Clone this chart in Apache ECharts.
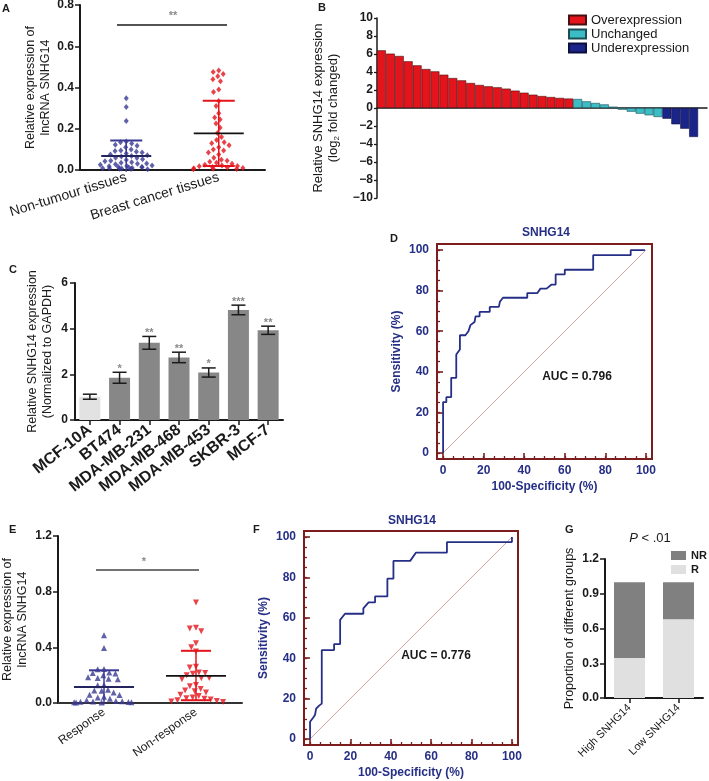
<!DOCTYPE html>
<html><head><meta charset="utf-8">
<script src="https://cdn.jsdelivr.net/npm/echarts@6/dist/echarts.min.js"></script>
<style>html,body{margin:0;padding:0;background:#fff}#c{width:709px;height:781px}</style>
</head><body><div id="c"></div>
<script>
// ---------- DATA ----------
const aCategories = ['Non-tumour tissues', 'Breast cancer tissues'];
const aNonTumour = [0.348,0.305,0.238,0.138,0.135,0.128,0.122,0.118,0.11,0.10,0.095,0.092,0.088,0.085,0.08,0.075,0.072,0.068,0.065,0.06,0.058,0.052,0.048,0.045,0.042,0.038,0.035,0.032,0.03,0.028,0.025,0.022,0.02,0.018,0.016,0.015,0.013,0.012,0.01,0.009,0.008,0.007,0.006,0.005,0.004];
const aCancer = [0.483,0.475,0.465,0.455,0.44,0.43,0.39,0.378,0.335,0.31,0.275,0.255,0.245,0.225,0.205,0.18,0.16,0.145,0.135,0.13,0.12,0.11,0.10,0.095,0.085,0.075,0.06,0.05,0.045,0.04,0.035,0.03,0.025,0.022,0.02,0.018,0.015,0.012,0.01,0.008,0.006,0.005,0.004];
const aMean = [0.068, 0.178];
const aSdLow = [-0.008, 0.02];
const aSdHigh = [0.143, 0.336];

const bOver = [6.41,6.04,5.78,5.19,4.74,4.33,4.07,3.70,3.33,3.07,2.78,2.56,2.41,2.30,2.15,1.93,1.70,1.48,1.33,1.22,1.12,1.05];
const bUnchanged = [1.0,0.74,0.56,0.4,0.15,-0.19,-0.41,-0.63,-0.81,-1.0];
const bUnder = [-1.19,-1.81,-2.3,-3.22];
const bNames = ['Overexpression','Unchanged','Underexpression'];

const cCategories = ['MCF-10A','BT474','MDA-MB-231','MDA-MB-468','MDA-MB-453','SKBR-3','MCF-7'];
const cMeans = [1.02,1.85,3.38,2.74,2.08,4.82,3.93];
const cErrors = [0.11,0.24,0.28,0.23,0.2,0.21,0.18];
const cSig = ['','*','**','**','*','***','**'];

const dRoc = [[0,0],[0,25],[1.6,25],[1.6,27.5],[4,27.5],[4,37],[6.5,37],[6.5,48.5],[8.3,51],[8.3,58],[11,58],[12.5,60],[13.5,63],[15.5,64.5],[16,67.3],[18,67.3],[18,69.5],[23,69.5],[23,72],[27.5,72],[28,74.5],[29.5,76.5],[41.5,76.5],[41.5,78.8],[46.5,78.8],[48,81],[51,81],[53.5,83],[55.5,83],[55.5,88],[60,88],[60,90.3],[74,90.3],[74,97.5],[92.5,97.5],[92.5,100],[99.5,100]];

const eCategories = ['Response', 'Non-response'];
const eResponse = [0.486,0.395,0.245,0.243,0.22,0.215,0.212,0.2,0.185,0.18,0.175,0.17,0.13,0.128,0.095,0.09,0.088,0.075,0.06,0.058,0.045,0.04,0.03,0.02,0.015,0.012,0.01,0.009,0.008,0.006,0.005,0.004,0.003];
const eNonResponse = [0.723,0.54,0.535,0.515,0.43,0.40,0.37,0.26,0.255,0.22,0.215,0.21,0.2,0.18,0.178,0.17,0.13,0.12,0.10,0.09,0.085,0.075,0.06,0.05,0.04,0.035,0.03,0.025,0.02,0.015,0.01,0.008];
const eMean = [0.115, 0.195];
const eSdLow = [-0.01, 0.02];
const eSdHigh = [0.235, 0.375];

const fRoc = [[0,0],[0,8.5],[1.5,10.5],[2.5,12],[3,15],[4.5,16.5],[5.8,17.5],[5.8,44],[11.9,44],[11.9,47],[14.9,47],[14.9,59],[17.3,62],[26.4,62],[26.4,64.7],[29,67.6],[32.2,67.6],[32.2,70.6],[38.3,70.6],[38.3,79.4],[41.3,79.4],[41.3,88.2],[49.6,88.2],[52.5,92.3],[67.8,92.3],[67.8,97.5],[100,97.5],[100,100]];

const gCategories = ['High SNHG14', 'Low SNHG14'];
const gR = [0.345, 0.68];
const gNR = [0.655, 0.32];

// ---------- STYLE ----------
const FF = '"Liberation Sans", Arial, Helvetica, sans-serif';
const NAVY = '#262F86';
const MAROON = '#7B1D1D';
const BLUE = '#3A3A94';
const RED = '#E3141B';
const BK = '#1a1a1a';

const chart = echarts.init(document.getElementById('c'), null, {renderer: 'canvas'});

function baseGrid(l, t, w, h, extra) {
  return Object.assign({left: l, top: t, width: w, height: h, containLabel: false, outerBoundsMode: 'none'}, extra || {});
}
const tickLbl = {color: BK, fontSize: 12, fontWeight: 'bold', fontFamily: FF};
const nameStyle = {color: BK, fontSize: 12.5, fontFamily: FF, lineHeight: 15};

function meanSdRender(meanHalf, capHalf, colors, meanColors) {
  return function (params, api) {
    const i = api.value(0), m = api.value(1), lo = api.value(2), hi = api.value(3);
    const pm = api.coord([i, m]), ph = api.coord([i, hi]), pl = api.coord([i, lo]);
    const c = colors[params.dataIndex], mc = meanColors[params.dataIndex];
    const ch = [
      {type: 'line', shape: {x1: ph[0], y1: ph[1], x2: pl[0], y2: pl[1]}, style: {stroke: c, lineWidth: 1.5}},
      {type: 'line', shape: {x1: ph[0] - capHalf, y1: ph[1], x2: ph[0] + capHalf, y2: ph[1]}, style: {stroke: c, lineWidth: 2}},
      {type: 'line', shape: {x1: pm[0] - meanHalf, y1: pm[1], x2: pm[0] + meanHalf, y2: pm[1]}, style: {stroke: mc, lineWidth: 1.8}}
    ];
    if (lo > 0) ch.push({type: 'line', shape: {x1: pl[0] - capHalf, y1: pl[1], x2: pl[0] + capHalf, y2: pl[1]}, style: {stroke: c, lineWidth: 2}});
    return {type: 'group', children: ch};
  };
}

function errRender(params, api) {
  const i = api.value(0), m = api.value(1), e = api.value(2);
  const pt = api.coord([i, m + e]), pb = api.coord([i, m - e]);
  const hw = 7;
  return {type: 'group', children: [
    {type: 'line', shape: {x1: pt[0], y1: pt[1], x2: pb[0], y2: pb[1]}, style: {stroke: BK, lineWidth: 1.5}},
    {type: 'line', shape: {x1: pt[0] - hw, y1: pt[1], x2: pt[0] + hw, y2: pt[1]}, style: {stroke: BK, lineWidth: 1.5}},
    {type: 'line', shape: {x1: pb[0] - hw, y1: pb[1], x2: pb[0] + hw, y2: pb[1]}, style: {stroke: BK, lineWidth: 1.5}},
    {type: 'text', style: {text: cSig[params.dataIndex], x: pt[0], y: pt[1] + 2, align: 'center', verticalAlign: 'bottom', fill: '#8a8a8a', font: 'bold 11px ' + FF}}
  ]};
}

function rocAxes(gi, dir) {
  const minor = [], major = [0, 20, 40, 60, 80, 100];
  for (let v = 0; v <= 100; v += 5) minor.push(v);
  const common = {type: 'value', gridIndex: gi, min: -3, max: 103, splitLine: {show: false},
                  position: dir === 'x' ? 'bottom' : 'left', offset: 0};
  return [
    Object.assign({}, common, {
      axisLine: {show: true, onZero: false, lineStyle: {color: MAROON, width: 2}},
      axisTick: {show: true, inside: true, length: 3, customValues: minor, lineStyle: {color: MAROON, width: 1.3}},
      axisLabel: {show: false}
    }),
    Object.assign({}, common, {
      axisLine: {show: false, onZero: false},
      axisTick: {show: true, inside: true, length: 6, customValues: major, lineStyle: {color: MAROON, width: 1.6}},
      axisLabel: {show: true, customValues: major, color: NAVY, fontWeight: 'bold', fontSize: 12, fontFamily: FF, margin: dir === 'x' ? 6 : 8},
      name: dir === 'x' ? '100-Specificity (%)' : 'Sensitivity (%)',
      nameLocation: 'middle',
      nameGap: dir === 'x' ? 22 : 34,
      nameTextStyle: {color: NAVY, fontWeight: 'bold', fontSize: 12, fontFamily: FF}
    })
  ];
}
const dX = rocAxes(3, 'x'), dY = rocAxes(3, 'y');
const fX = rocAxes(5, 'x'), fY = rocAxes(5, 'y');

const bN = bOver.length + bUnchanged.length + bUnder.length;
const bCats = [];
for (let i = 0; i <= bN; i++) bCats.push(String(i));
function padSeries(arr, start) {
  const out = [];
  for (let i = 0; i <= bN; i++) out.push(i >= start && i < start + arr.length ? arr[i - start] : '-');
  return out;
}

const option = {
  animation: false,
  backgroundColor: '#fff',
  textStyle: {fontFamily: FF},
  grid: [
    baseGrid(80, 5, 185, 165),        // A
    baseGrid(377, 18, 330, 180),      // B
    baseGrid(75, 283, 208, 137),      // C
    baseGrid(437, 244, 215, 215, {show: true, borderColor: MAROON, borderWidth: 2, backgroundColor: 'transparent'}), // D
    baseGrid(58, 536, 184, 167),      // E
    baseGrid(304, 531, 214, 214, {show: true, borderColor: MAROON, borderWidth: 2, backgroundColor: 'transparent'}), // F
    baseGrid(605, 559, 98, 139)       // G
  ],
  legend: [
    {left: 563, top: 8, orient: 'vertical', itemWidth: 17, itemHeight: 9, itemGap: 0, icon: 'rect', selectedMode: false,
     data: bNames, textStyle: {fontSize: 13, color: BK, fontFamily: FF, lineHeight: 14}},
    {left: 666, top: 545, orient: 'vertical', itemWidth: 15, itemHeight: 9, itemGap: 3, itemTextGap: 4, icon: 'rect', selectedMode: false,
     data: ['NR', 'R'], textStyle: {fontSize: 11, fontWeight: 'bold', color: BK, fontFamily: FF, lineHeight: 11}}
  ],
  xAxis: [
    {type: 'category', gridIndex: 0, data: aCategories, jitter: 52, jitterOverlap: false, jitterMargin: 0.3,
     axisLine: {lineStyle: {color: BK, width: 2}}, axisTick: {show: false},
     axisLabel: {rotate: 17, color: BK, fontSize: 14, fontFamily: FF, margin: 7, interval: 0}},
    {type: 'category', gridIndex: 1, data: bCats, axisLine: {onZero: true, lineStyle: {color: BK, width: 1.5}},
     axisTick: {show: false}, axisLabel: {show: false}},
    {type: 'category', gridIndex: 2, data: cCategories,
     axisLine: {lineStyle: {color: BK, width: 2}}, axisTick: {show: true, alignWithLabel: true, length: 5, lineStyle: {color: BK, width: 1.5}},
     axisLabel: {rotate: 38, color: BK, fontSize: 16, fontWeight: 'bold', fontFamily: FF, margin: 8, interval: 0}},
    dX[0], dX[1],
    {type: 'category', gridIndex: 4, data: eCategories, jitter: 60, jitterOverlap: false, jitterMargin: 0.3,
     axisLine: {lineStyle: {color: '#333', width: 2}}, axisTick: {show: false},
     axisLabel: {rotate: 35, color: BK, fontSize: 12, fontFamily: FF, margin: 8, interval: 0}},
    fX[0], fX[1],
    {type: 'category', gridIndex: 6, data: gCategories,
     axisLine: {lineStyle: {color: BK, width: 2}}, axisTick: {show: true, alignWithLabel: true, length: 5, lineStyle: {color: BK, width: 1.5}},
     axisLabel: {rotate: 45, color: BK, fontSize: 11, fontFamily: FF, margin: 8, interval: 0}}
  ],
  yAxis: [
    {type: 'value', gridIndex: 0, min: 0, max: 0.8, interval: 0.2, splitLine: {show: false},
     axisLine: {show: true, lineStyle: {color: BK, width: 2}}, axisTick: {show: true, length: 5, lineStyle: {color: BK, width: 1.5}},
     axisLabel: Object.assign({formatter: v => v.toFixed(1), margin: 6}, tickLbl),
     name: 'Relative expression of\nlncRNA SNHG14', nameLocation: 'middle', nameGap: 25, nameTextStyle: nameStyle},
    {type: 'value', gridIndex: 1, min: -10, max: 10, interval: 2, splitLine: {show: false},
     axisLine: {show: true, lineStyle: {color: BK, width: 1.5}}, axisTick: {show: true, length: 3, lineStyle: {color: BK, width: 1.3}},
     axisLabel: Object.assign({formatter: v => String(v).replace('-', '\u2212'), margin: 4}, tickLbl),
     name: '{n|Relative SNHG14 expression}\n{n|(log}{s|2}{n| fold changed)}', nameLocation: 'middle', nameGap: 36,
     nameTextStyle: {rich: {n: {fontSize: 13, fontFamily: FF, color: BK, lineHeight: 15}, s: {fontSize: 8, fontFamily: FF, color: BK, lineHeight: 15, verticalAlign: 'bottom', padding: [6, 0, 0, 0]}}}},
    {type: 'value', gridIndex: 2, min: 0, max: 6, interval: 2, splitLine: {show: false},
     axisLine: {show: true, lineStyle: {color: BK, width: 2}}, axisTick: {show: true, length: 5, lineStyle: {color: BK, width: 1.5}},
     axisLabel: Object.assign({margin: 7}, tickLbl),
     name: 'Relative SNHG14 expression\n(Normalized to GAPDH)', nameLocation: 'middle', nameGap: 20, nameTextStyle: nameStyle},
    dY[0], dY[1],
    {type: 'value', gridIndex: 4, min: 0, max: 1.2, interval: 0.4, splitLine: {show: false},
     axisLine: {show: true, lineStyle: {color: BK, width: 2}}, axisTick: {show: true, length: 5, lineStyle: {color: BK, width: 1.5}},
     axisLabel: Object.assign({formatter: v => v.toFixed(1), margin: 6}, tickLbl),
     name: 'Relative expression of\nlncRNA SNHG14', nameLocation: 'middle', nameGap: 28, nameTextStyle: nameStyle},
    fY[0], fY[1],
    {type: 'value', gridIndex: 6, min: 0, max: 1.2, interval: 0.3, splitLine: {show: false},
     axisLine: {show: true, lineStyle: {color: BK, width: 2}}, axisTick: {show: true, length: 5, lineStyle: {color: BK, width: 1.5}},
     axisLabel: Object.assign({formatter: v => v.toFixed(1), margin: 6}, tickLbl),
     name: 'Proportion of different groups', nameLocation: 'middle', nameGap: 28, nameTextStyle: nameStyle}
  ],
  series: [
    // A
    {type: 'scatter', xAxisIndex: 0, yAxisIndex: 0, symbol: 'diamond', symbolSize: [5, 6], itemStyle: {color: BLUE},
     data: aNonTumour.map(v => [0, v]), z: 3},
    {type: 'scatter', xAxisIndex: 0, yAxisIndex: 0, symbol: 'diamond', symbolSize: [5, 6], itemStyle: {color: RED},
     data: aCancer.map(v => [1, v]), z: 3},
    {type: 'custom', xAxisIndex: 0, yAxisIndex: 0, z: 4, clip: false,
     renderItem: meanSdRender(25, 16, [BLUE, RED], ['#23235e', '#111']),
     data: aMean.map((m, i) => [i, m, aSdLow[i], aSdHigh[i]])},
    // B
    {type: 'bar', name: bNames[0], xAxisIndex: 1, yAxisIndex: 1, stack: 'b', barCategoryGap: '0%',
     itemStyle: {color: '#E3141B', borderColor: '#4a1010', borderWidth: 0.6}, data: padSeries(bOver, 0)},
    {type: 'bar', name: bNames[1], xAxisIndex: 1, yAxisIndex: 1, stack: 'b', barCategoryGap: '0%',
     itemStyle: {color: '#3CBDC6', borderColor: '#1c4f55', borderWidth: 0.6}, data: padSeries(bUnchanged, bOver.length)},
    {type: 'bar', name: bNames[2], xAxisIndex: 1, yAxisIndex: 1, stack: 'b', barCategoryGap: '0%',
     itemStyle: {color: '#1B2488', borderColor: '#0c1040', borderWidth: 0.6}, data: padSeries(bUnder, bOver.length + bUnchanged.length)},
    // C
    {type: 'bar', xAxisIndex: 2, yAxisIndex: 2, barWidth: 21,
     data: cMeans.map((v, i) => ({value: v, itemStyle: {color: i === 0 ? '#E2E2E2' : '#878787'}}))},
    {type: 'custom', xAxisIndex: 2, yAxisIndex: 2, z: 5, clip: false, renderItem: errRender,
     data: cMeans.map((m, i) => [i, m, cErrors[i]])},
    // D
    {type: 'line', xAxisIndex: 4, yAxisIndex: 4, showSymbol: false, symbol: 'none',
     lineStyle: {color: '#D9A3A3', width: 1}, data: [[0, 0], [100, 100]], z: 2},
    {type: 'line', xAxisIndex: 4, yAxisIndex: 4, showSymbol: false, symbol: 'none',
     lineStyle: {color: NAVY, width: 1.8}, data: dRoc, z: 3},
    // E
    {type: 'scatter', xAxisIndex: 5, yAxisIndex: 5, symbol: 'triangle', symbolSize: 6, itemStyle: {color: BLUE},
     data: eResponse.map(v => [0, v]), z: 3},
    {type: 'scatter', xAxisIndex: 5, yAxisIndex: 5, symbol: 'triangle', symbolRotate: 180, symbolSize: 6, itemStyle: {color: RED},
     data: eNonResponse.map(v => [1, v]), z: 3},
    {type: 'custom', xAxisIndex: 5, yAxisIndex: 5, z: 4, clip: false,
     renderItem: meanSdRender(30, 15, [BLUE, RED], ['#23235e', '#111']),
     data: eMean.map((m, i) => [i, m, eSdLow[i], eSdHigh[i]])},
    // F
    {type: 'line', xAxisIndex: 7, yAxisIndex: 7, showSymbol: false, symbol: 'none',
     lineStyle: {color: '#D9A3A3', width: 1}, data: [[0, 0], [100, 100]], z: 2},
    {type: 'line', xAxisIndex: 7, yAxisIndex: 7, showSymbol: false, symbol: 'none',
     lineStyle: {color: NAVY, width: 1.8}, data: fRoc, z: 3},
    // G
    {type: 'bar', name: 'R', xAxisIndex: 8, yAxisIndex: 8, stack: 'g', barWidth: 31,
     itemStyle: {color: '#E0E0E0'}, data: gR},
    {type: 'bar', name: 'NR', xAxisIndex: 8, yAxisIndex: 8, stack: 'g', barWidth: 31,
     itemStyle: {color: '#808080'}, data: gNR}
  ],
  graphic: [
    // panel letters
    {type: 'text', left: 2, top: 3, style: {text: 'A', font: 'bold 11px ' + FF, fill: BK}},
    {type: 'text', left: 318, top: 2, style: {text: 'B', font: 'bold 11px ' + FF, fill: BK}},
    {type: 'text', left: 9, top: 264, style: {text: 'C', font: 'bold 11px ' + FF, fill: BK}},
    {type: 'text', left: 390, top: 233, style: {text: 'D', font: 'bold 11px ' + FF, fill: BK}},
    {type: 'text', left: 9, top: 524, style: {text: 'E', font: 'bold 11px ' + FF, fill: BK}},
    {type: 'text', left: 253, top: 524, style: {text: 'F', font: 'bold 11px ' + FF, fill: BK}},
    {type: 'text', left: 565, top: 524, style: {text: 'G', font: 'bold 11px ' + FF, fill: BK}},
    // titles
    {type: 'text', x: 546, y: 233, style: {text: 'SNHG14', font: 'bold 12px ' + FF, fill: NAVY, align: 'center', verticalAlign: 'middle'}},
    {type: 'text', x: 412, y: 521, style: {text: 'SNHG14', font: 'bold 12px ' + FF, fill: NAVY, align: 'center', verticalAlign: 'middle'}},
    {type: 'text', x: 577, y: 377, style: {text: 'AUC = 0.796', font: 'bold 12px ' + FF, fill: BK, align: 'center', verticalAlign: 'middle'}},
    {type: 'text', x: 436, y: 656, style: {text: 'AUC = 0.776', font: 'bold 12px ' + FF, fill: BK, align: 'center', verticalAlign: 'middle'}},
    // significance
    {type: 'line', shape: {x1: 117, y1: 25, x2: 227, y2: 25}, style: {stroke: BK, lineWidth: 1.5}},
    {type: 'text', x: 173, y: 16, style: {text: '**', font: 'bold 11px ' + FF, fill: '#8a8a8a', align: 'center', verticalAlign: 'middle'}},
    {type: 'line', shape: {x1: 96, y1: 570, x2: 199, y2: 570}, style: {stroke: '#444', lineWidth: 1.5}},
    {type: 'text', x: 144, y: 562, style: {text: '*', font: 'bold 11px ' + FF, fill: '#8a8a8a', align: 'center', verticalAlign: 'middle'}},
    {type: 'text', x: 650, y: 538, style: {text: '{i|P} < .01', rich: {i: {font: 'italic 13px ' + FF, fill: BK}}, font: '13px ' + FF, fill: BK, align: 'center', verticalAlign: 'middle'}}
  ]
};
chart.setOption(option);
</script>
</body></html>
